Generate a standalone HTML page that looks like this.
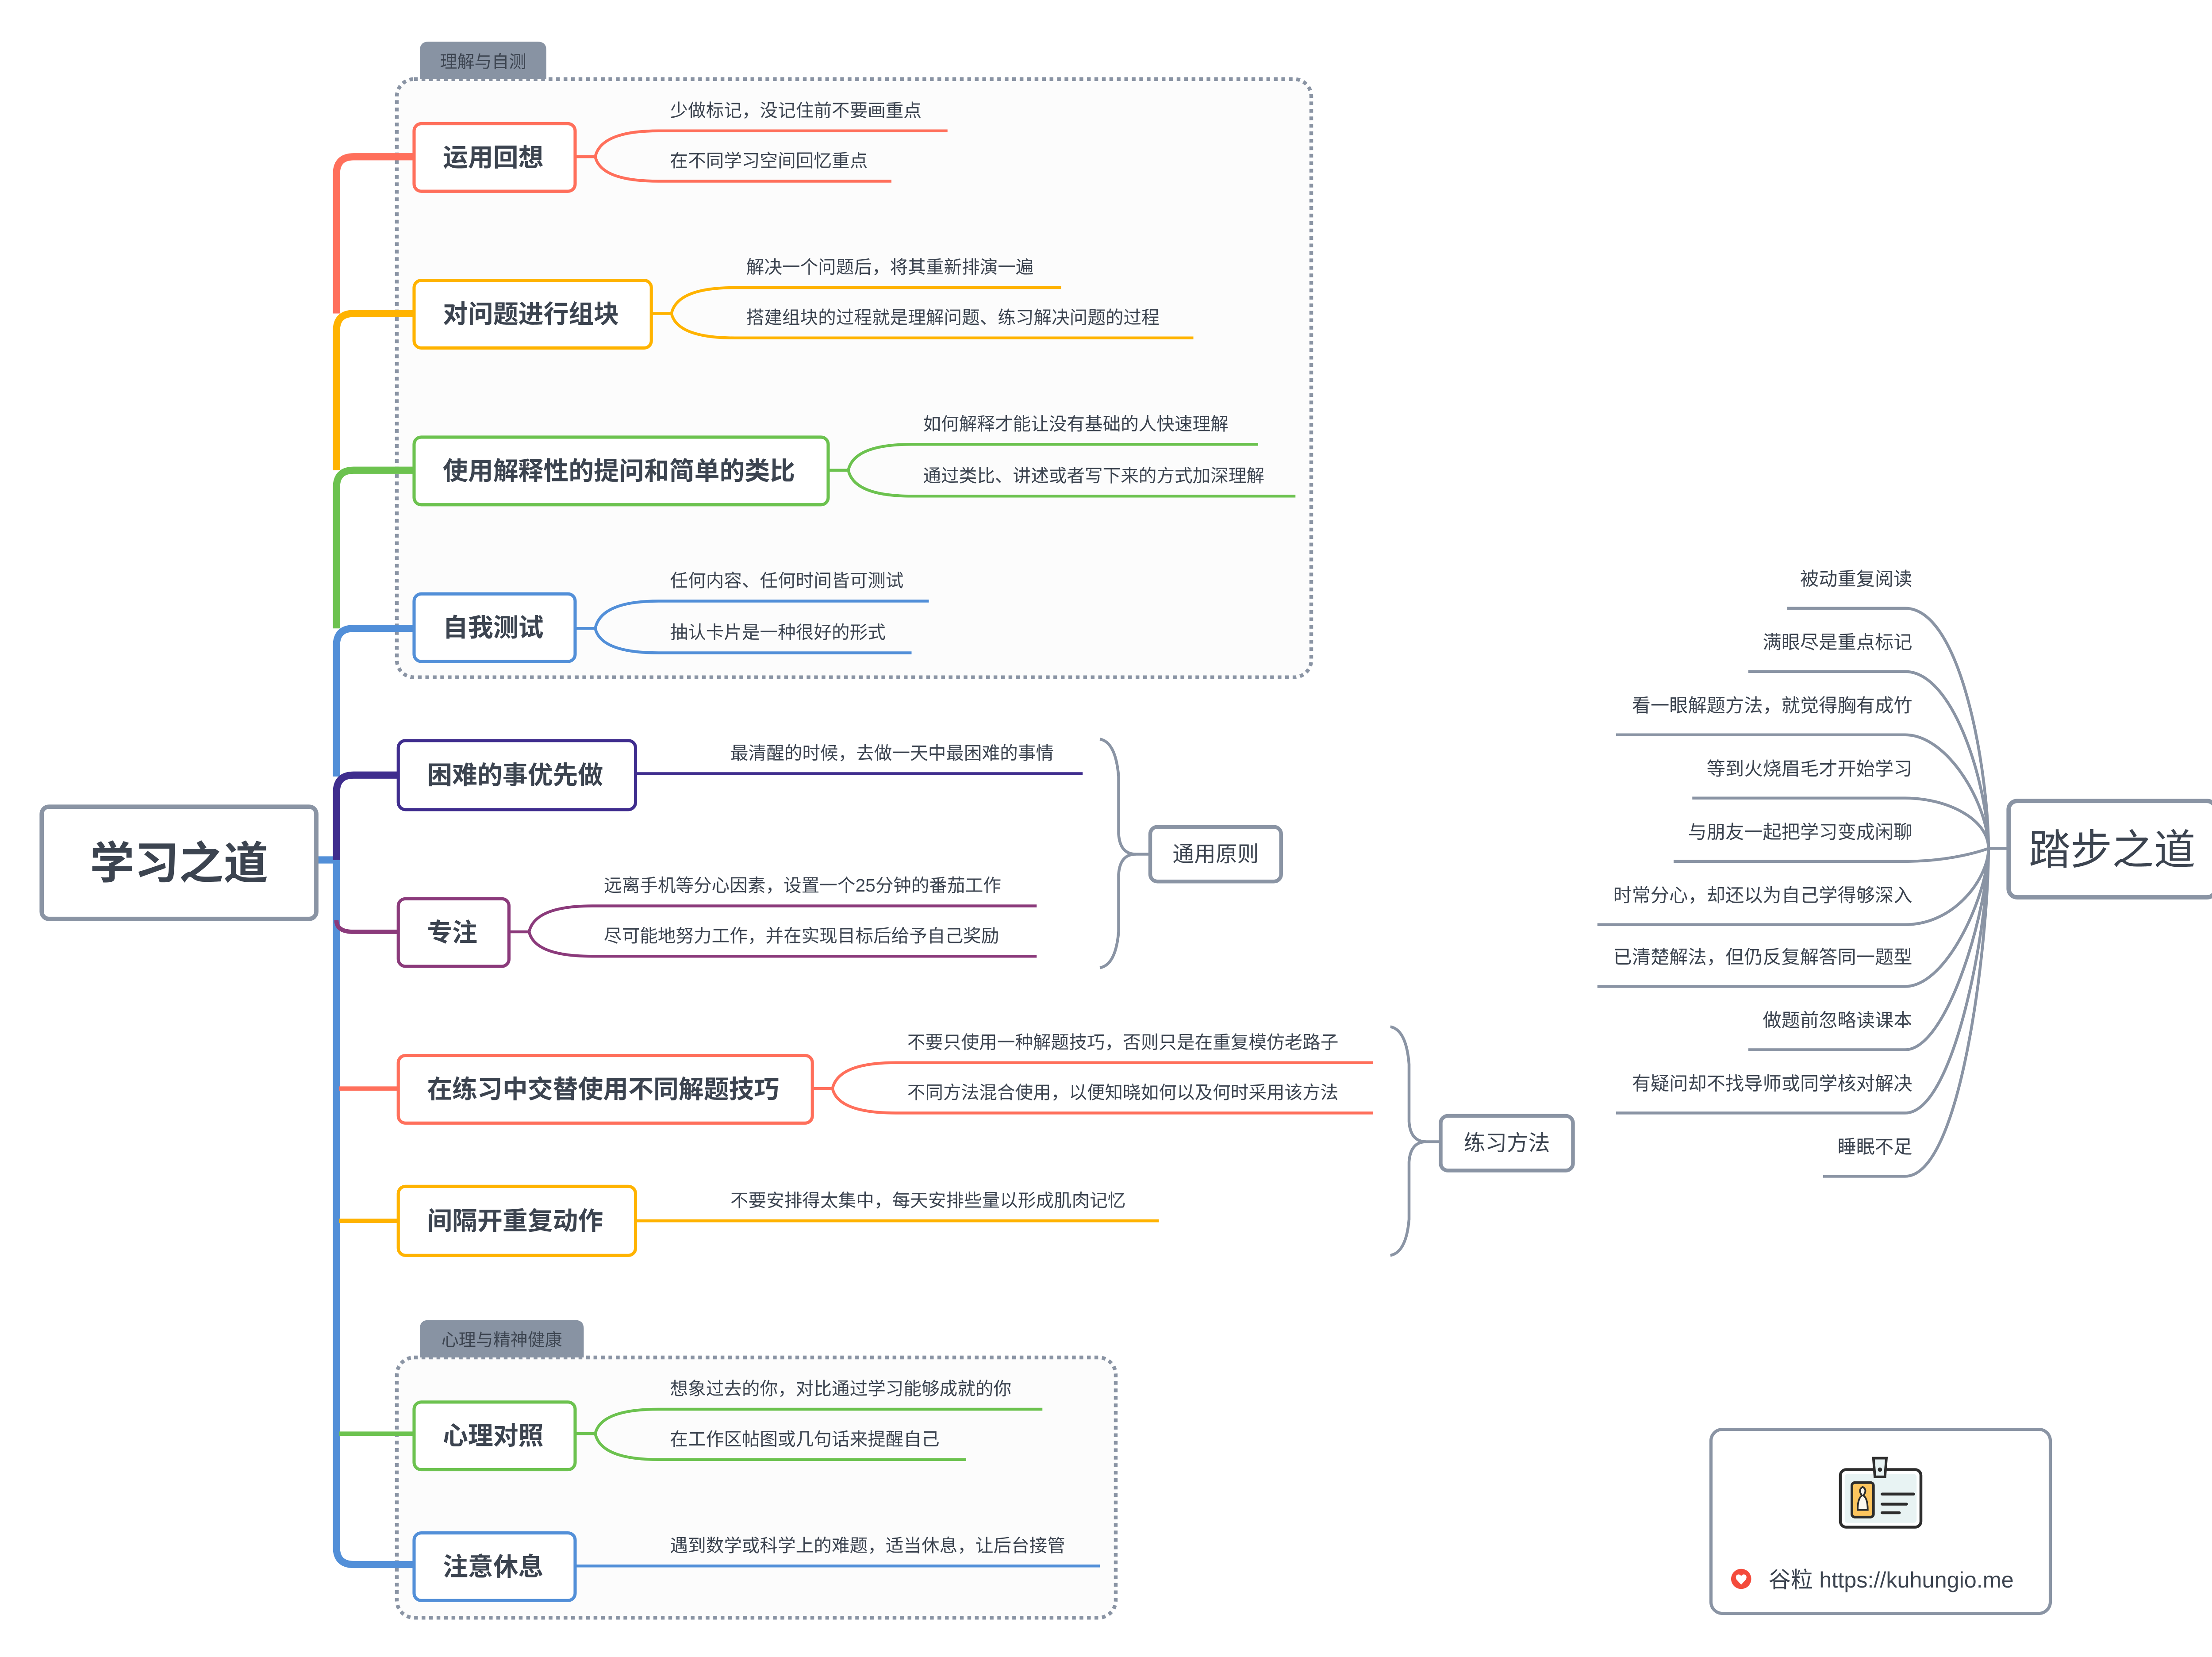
<!DOCTYPE html>
<html><head><meta charset="utf-8"><style>
html,body{margin:0;padding:0;background:#fff;}
svg{display:block;}
text{font-family:"Liberation Sans","Noto Sans CJK SC",sans-serif;fill:#3c4450;}
.t{font-size:17.5px;font-weight:bold;}
.s{font-size:12.5px;}
</style></head><body>
<svg width="5096" height="3745" viewBox="0 0 1568 1152.3" xmlns="http://www.w3.org/2000/svg">
<rect width="1568" height="1153" fill="#fff"/>
<!-- boundaries -->
<rect x="276" y="55" width="636" height="416" rx="12" fill="#fcfcfc" stroke="#8a94a4" stroke-width="2.6" stroke-dasharray="2.6 2.6"/>
<path d="M292 55 V35 Q292 29 298 29 H374 Q380 29 380 35 V55 Z" fill="#8893a3"/>
<text x="336" y="47" font-size="12" text-anchor="middle" style="fill:#3c4450">理解与自测</text>
<rect x="276" y="944" width="500" height="181" rx="12" fill="#fcfcfc" stroke="#8a94a4" stroke-width="2.6" stroke-dasharray="2.6 2.6"/>
<path d="M292 944 V924 Q292 918 298 918 H400 Q406 918 406 924 V944 Z" fill="#8893a3"/>
<text x="349" y="936" font-size="12" text-anchor="middle" style="fill:#3c4450">心理与精神健康</text>

<!-- trunk -->
<g fill="none" stroke-width="5" stroke-linecap="butt">
<path d="M220 598 H236" stroke="#528fd8"/>
<path d="M288 109 H246 Q234 109 234 121 V218" stroke="#ff6f5b"/>
<path d="M288 218 H246 Q234 218 234 230 V327" stroke="#ffb300"/>
<path d="M288 327 H246 Q234 327 234 339 V437" stroke="#6cc24f"/>
<path d="M288 437 H246 Q234 437 234 449 V540 M234 598 V1076 Q234 1088 246 1088 H288" stroke="#528fd8"/>
<path d="M277 539 H246 Q234 539 234 551 V598" stroke="#3f2d8e"/>
<path d="M234 640 Q234 648 246 648 H277" stroke="#8b3a7b" stroke-width="3"/>
<path d="M236 757 H277" stroke="#ff6f5b" stroke-width="3"/>
<path d="M236 849 H277" stroke="#ffb300" stroke-width="3"/>
<path d="M236 997 H288" stroke="#6cc24f" stroke-width="3"/>
</g>

<!-- central -->
<rect x="29" y="561" width="191" height="78" rx="5" fill="#fff" stroke="#8a94a4" stroke-width="3"/>
<text x="124.5" y="611" font-size="31" font-weight="bold" text-anchor="middle">学习之道</text>

<!-- main topics -->
<g fill="#fff" stroke-width="2.2">
<rect x="288" y="86" width="112" height="47" rx="5" stroke="#ff6f5b"/>
<rect x="288" y="195" width="165" height="47" rx="5" stroke="#ffb300"/>
<rect x="288" y="304" width="288" height="47" rx="5" stroke="#6cc24f"/>
<rect x="288" y="413" width="112" height="47" rx="5" stroke="#528fd8"/>
<rect x="277" y="515" width="165" height="48" rx="5" stroke="#3f2d8e"/>
<rect x="277" y="625" width="77" height="47" rx="5" stroke="#8b3a7b"/>
<rect x="277" y="734" width="288" height="47" rx="5" stroke="#ff6f5b"/>
<rect x="277" y="825" width="165" height="48" rx="5" stroke="#ffb300"/>
<rect x="288" y="975" width="112" height="47" rx="5" stroke="#6cc24f"/>
<rect x="288" y="1066" width="112" height="47" rx="5" stroke="#528fd8"/>
</g>
<g class="t">
<text class="t" x="308" y="115.5">运用回想</text>
<text class="t" x="308" y="224.5">对问题进行组块</text>
<text class="t" x="308" y="333.5">使用解释性的提问和简单的类比</text>
<text class="t" x="308" y="442.5">自我测试</text>
<text class="t" x="297" y="545">困难的事优先做</text>
<text class="t" x="297" y="654.5">专注</text>
<text class="t" x="297" y="763.5">在练习中交替使用不同解题技巧</text>
<text class="t" x="297" y="855">间隔开重复动作</text>
<text class="t" x="308" y="1004.5">心理对照</text>
<text class="t" x="308" y="1095.5">注意休息</text>
</g>

<!-- subtopic connectors -->
<g fill="none" stroke-width="2">
<path d="M400 109 H414 Q418 91 458 91 H659 M414 109 Q418 126 458 126 H620" stroke="#ff6f5b"/>
<path d="M453 218 H467 Q471 200 511 200 H738 M467 218 Q471 235 511 235 H830" stroke="#ffb300"/>
<path d="M576 327 H590 Q594 309 634 309 H875 M590 327 Q594 345 634 345 H901" stroke="#6cc24f"/>
<path d="M400 437 H414 Q418 418 458 418 H646 M414 437 Q418 454 458 454 H634" stroke="#528fd8"/>
<path d="M442 538 H753" stroke="#3f2d8e"/>
<path d="M354 648 H368 Q372 630 412 630 H721 M368 648 Q372 665 412 665 H721" stroke="#8b3a7b"/>
<path d="M565 757 H579 Q583 739 623 739 H955 M579 757 Q583 774 623 774 H955" stroke="#ff6f5b"/>
<path d="M442 849 H806" stroke="#ffb300"/>
<path d="M400 997 H414 Q418 980 458 980 H725 M414 997 Q418 1015 458 1015 H672" stroke="#6cc24f"/>
<path d="M400 1089 H765" stroke="#528fd8"/>
</g>
<g class="s">
<text class="s" x="466" y="81">少做标记，没记住前不要画重点</text>
<text class="s" x="466" y="116">在不同学习空间回忆重点</text>
<text class="s" x="519" y="190">解决一个问题后，将其重新排演一遍</text>
<text class="s" x="519" y="225">搭建组块的过程就是理解问题、练习解决问题的过程</text>
<text class="s" x="642" y="299">如何解释才能让没有基础的人快速理解</text>
<text class="s" x="642" y="335">通过类比、讲述或者写下来的方式加深理解</text>
<text class="s" x="466" y="408">任何内容、任何时间皆可测试</text>
<text class="s" x="466" y="444">抽认卡片是一种很好的形式</text>
<text class="s" x="508" y="528">最清醒的时候，去做一天中最困难的事情</text>
<text class="s" x="420" y="620">远离手机等分心因素，设置一个25分钟的番茄工作</text>
<text class="s" x="420" y="655">尽可能地努力工作，并在实现目标后给予自己奖励</text>
<text class="s" x="631" y="729">不要只使用一种解题技巧，否则只是在重复模仿老路子</text>
<text class="s" x="631" y="764">不同方法混合使用，以便知晓如何以及何时采用该方法</text>
<text class="s" x="508" y="839">不要安排得太集中，每天安排些量以形成肌肉记忆</text>
<text class="s" x="466" y="970">想象过去的你，对比通过学习能够成就的你</text>
<text class="s" x="466" y="1005">在工作区帖图或几句话来提醒自己</text>
<text class="s" x="466" y="1079">遇到数学或科学上的难题，适当休息，让后台接管</text>
</g>

<!-- summaries -->
<g fill="none" stroke="#8a94a4" stroke-width="2">
<path d="M765 514 Q776 516 778 540 V580 Q779 594 790 594 Q779 594 778 608 V648 Q776 671 765 673"/>
<path d="M786 594 H800"/>
<path d="M967 714 Q978 716 980 740 V780 Q981 794 992 794 Q981 794 980 808 V848 Q978 871 967 873"/>
<path d="M988 794 H1002"/>
</g>
<rect x="800" y="575" width="91" height="38" rx="5" fill="#fff" stroke="#8a94a4" stroke-width="2.6"/>
<text x="845.5" y="599" font-size="15" text-anchor="middle">通用原则</text>
<rect x="1002" y="776" width="92" height="38" rx="5" fill="#fff" stroke="#8a94a4" stroke-width="2.6"/>
<text x="1048" y="800" font-size="15" text-anchor="middle">练习方法</text>

<!-- 踏步之道 -->
<g fill="none" stroke="#8a94a4" stroke-width="2">
<path d="M1243 423 H1325 C1365 423 1383 540 1383 590"/>
<path d="M1216 467 H1325 C1360 467 1383 550 1383 590"/>
<path d="M1124 511 H1325 C1355 511 1383 560 1383 590"/>
<path d="M1177 555 H1325 C1355 555 1383 570 1383 590"/>
<path d="M1164 599 H1325 C1360 599 1383 590 1383 590"/>
<path d="M1111 643 H1325 C1360 643 1383 610 1383 590"/>
<path d="M1111 686 H1325 C1355 686 1383 620 1383 590"/>
<path d="M1216 730 H1325 C1355 730 1383 630 1383 590"/>
<path d="M1124 774 H1325 C1360 774 1383 640 1383 590"/>
<path d="M1268 818 H1325 C1365 818 1383 650 1383 590"/>
<path d="M1383 590 H1397"/>
</g>
<g font-size="13" text-anchor="end">
<text x="1330" y="407">被动重复阅读</text>
<text x="1330" y="451">满眼尽是重点标记</text>
<text x="1330" y="495">看一眼解题方法，就觉得胸有成竹</text>
<text x="1330" y="539">等到火烧眉毛才开始学习</text>
<text x="1330" y="583">与朋友一起把学习变成闲聊</text>
<text x="1330" y="627">时常分心，却还以为自己学得够深入</text>
<text x="1330" y="670">已清楚解法，但仍反复解答同一题型</text>
<text x="1330" y="714">做题前忽略读课本</text>
<text x="1330" y="758">有疑问却不找导师或同学核对解决</text>
<text x="1330" y="802">睡眠不足</text>
</g>
<rect x="1397" y="557" width="144" height="67" rx="6" fill="#fff" stroke="#8a94a4" stroke-width="3"/>
<text x="1469" y="601" font-size="29" text-anchor="middle">踏步之道</text>

<!-- branding -->
<rect x="1190" y="994" width="236" height="128" rx="8" fill="#fff" stroke="#8a94a4" stroke-width="2.2"/>
<rect x="1280" y="1022" width="56" height="40" rx="4" fill="#fff" stroke="#2d2d2d" stroke-width="2"/>
<rect x="1283" y="1025" width="50" height="34" rx="2" fill="#e8f3f3"/>
<rect x="1288" y="1031" width="15" height="24" rx="2" fill="#fdc55e" stroke="#2d2d2d" stroke-width="1.8"/>
<path d="M1292 1050 Q1292 1042 1295 1040 Q1292 1036 1295.5 1034 Q1299 1036 1296 1040 Q1299 1042 1299 1050 Z" fill="#fdf8ee" stroke="#2d2d2d" stroke-width="1.2"/>
<path d="M1303 1014 H1312 L1311 1027 H1304 Z" fill="#e8f3f3" stroke="#2d2d2d" stroke-width="1.8"/>
<circle cx="1307.5" cy="1022" r="1.5" fill="#2d2d2d"/>
<g stroke="#2d2d2d" stroke-width="2" stroke-linecap="round"><path d="M1309 1039 H1331 M1309 1046 H1326 M1309 1052 H1321"/></g>
<circle cx="1211" cy="1098" r="7" fill="#f44b3c"/>
<path d="M1211 1102 L1207.8 1098.5 Q1206.5 1096 1208.5 1095 Q1210 1094.5 1211 1096 Q1212 1094.5 1213.5 1095 Q1215.5 1096 1214.2 1098.5 Z" fill="#fff"/>
<text x="1230" y="1104" font-size="15.5">谷粒 https://kuhungio.me</text>
</svg>
</body></html>
